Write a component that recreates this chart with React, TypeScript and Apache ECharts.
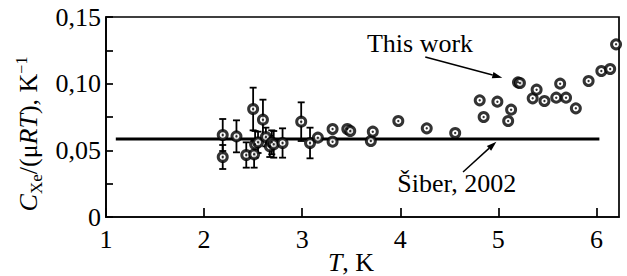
import React, { useEffect, useRef } from "react";
import * as echarts from "echarts";

// Points with error bars: [T, C/(μRT), error]
const errPoints: number[][] = [
  [2.19, 0.0615, 0.012],
  [2.19, 0.045, 0.009],
  [2.33, 0.0605, 0.012],
  [2.43, 0.0465, 0.0095],
  [2.5, 0.081, 0.016],
  [2.51, 0.047, 0.01],
  [2.52, 0.0545, 0.01],
  [2.55, 0.056, 0.008],
  [2.6, 0.073, 0.015],
  [2.63, 0.06, 0.007],
  [2.67, 0.053, 0.008],
  [2.69, 0.056, 0.009],
  [2.71, 0.0545, 0.01],
  [2.8, 0.0555, 0.011],
  [2.99, 0.0715, 0.0145],
  [3.08, 0.0555, 0.0115],
];

// Points without error bars: [T, C/(μRT)]
const plainPoints: number[][] = [
  [3.16, 0.0595],
  [3.31, 0.066],
  [3.31, 0.0565],
  [3.46, 0.066],
  [3.49, 0.0645],
  [3.7, 0.057],
  [3.72, 0.064],
  [3.98, 0.072],
  [4.27, 0.0665],
  [4.56, 0.063],
  [4.81, 0.0875],
  [4.85, 0.075],
  [4.99, 0.0865],
  [5.1, 0.072],
  [5.13, 0.0805],
  [5.2, 0.101],
  [5.22, 0.1005],
  [5.35, 0.089],
  [5.39, 0.0955],
  [5.47, 0.087],
  [5.59, 0.0895],
  [5.63, 0.1],
  [5.69, 0.0895],
  [5.79, 0.0815],
  [5.92, 0.102],
  [6.05, 0.1095],
  [6.14, 0.111],
  [6.2, 0.1295],
];

// Šiber, 2002 theoretical value
const siberLine: number[][] = [
  [1.1, 0.0585],
  [6.03, 0.0585],
];

const xTicks = [1, 2, 3, 4, 5, 6];
const yLabels = ["0", "0,05", "0,10", "0,15"];

const FONT = "'Liberation Serif', 'Times New Roman', serif";
const FS = 26;

export default function App() {
  const ref = useRef<HTMLDivElement>(null);
  useEffect(() => {
    if (!ref.current) return;
    const chart = echarts.init(ref.current, undefined, { renderer: "svg" });
    const allPoints = [...errPoints.map((p) => [p[0], p[1]]), ...plainPoints];
    const option: any = {
      animation: false,
      backgroundColor: "#fff",
      grid: {
        left: 106,
        right: 8,
        top: 17,
        bottom: 59,
        show: true,
        borderColor: "#000",
        borderWidth: 1.7,
        containLabel: false,
      },
      xAxis: {
        type: "value",
        min: 1,
        max: 6.23,
        interval: 1,
        axisLine: { show: true, onZero: false, lineStyle: { color: "#000", width: 1.7 } },
        axisTick: { show: true, inside: true, length: 9, lineStyle: { color: "#000", width: 1.7 } },
        splitLine: { show: false },
        axisLabel: {
          color: "#000",
          fontFamily: FONT,
          fontSize: FS,
          margin: 9,
          showMaxLabel: false,
          formatter: (v: number) => (xTicks.includes(Math.round(v * 100) / 100) ? String(v) : ""),
        },
      },
      yAxis: {
        type: "value",
        min: 0,
        max: 0.15,
        interval: 0.025,
        axisLine: { show: true, onZero: false, lineStyle: { color: "#000", width: 1.7 } },
        axisTick: { show: true, inside: true, length: 7, lineStyle: { color: "#000", width: 1.7 } },
        splitLine: { show: false },
        axisLabel: {
          color: "#000",
          fontFamily: FONT,
          fontSize: FS,
          margin: 5,
          formatter: (v: number) => {
            const idx = Math.round(v / 0.05);
            if (Math.abs(v - idx * 0.05) > 1e-6) return "";
            return yLabels[idx] ?? "";
          },
        },
      },
      series: [
        {
          type: "line",
          data: siberLine,
          symbol: "none",
          lineStyle: { color: "#000", width: 2.8 },
          z: 1,
        },
        {
          type: "custom",
          data: errPoints,
          renderItem: (params: any, api: any) => {
            const x = api.value(0);
            const y = api.value(1);
            const e = api.value(2);
            const top = api.coord([x, y + e]);
            const bot = api.coord([x, y - e]);
            const cw = 3.5;
            const style = { stroke: "#000", lineWidth: 1.8 };
            return {
              type: "group",
              children: [
                { type: "line", shape: { x1: top[0], y1: top[1], x2: bot[0], y2: bot[1] }, style },
                { type: "line", shape: { x1: top[0] - cw, y1: top[1], x2: top[0] + cw, y2: top[1] }, style },
                { type: "line", shape: { x1: bot[0] - cw, y1: bot[1], x2: bot[0] + cw, y2: bot[1] }, style },
              ],
            };
          },
          z: 2,
        },
        {
          type: "scatter",
          data: allPoints,
          symbol: "circle",
          symbolSize: 9,
          itemStyle: { color: "#fff", borderColor: "#000", borderWidth: 3 },
          z: 3,
        },
        {
          type: "scatter",
          data: allPoints,
          symbol: "circle",
          symbolSize: 2.4,
          itemStyle: { color: "#000" },
          z: 4,
        },
      ],
    };
    chart.setOption(option);

    const px = (p: number[]) => chart.convertToPixel({ gridIndex: 0 }, p) as number[];
    const arrow = (from: number[], to: number[]) => {
      const a = px(from);
      const b = px(to);
      const dx = b[0] - a[0];
      const dy = b[1] - a[1];
      const len = Math.hypot(dx, dy);
      const ux = dx / len;
      const uy = dy / len;
      const hl = 10;
      const hw = 3.2;
      const bx = b[0] - ux * hl;
      const by = b[1] - uy * hl;
      return [
        {
          type: "line",
          shape: { x1: a[0], y1: a[1], x2: bx, y2: by },
          style: { stroke: "#000", lineWidth: 1.5 },
        },
        {
          type: "polygon",
          shape: {
            points: [
              [b[0], b[1]],
              [bx - uy * hw, by + ux * hw],
              [bx + uy * hw, by - ux * hw],
            ],
          },
          style: { fill: "#000" },
        },
      ];
    };
    const twPos = px([3.66, 0.1305]);
    const sbPos = px([3.97, 0.0255]);
    const graphic: any[] = [
      {
        type: "text",
        x: twPos[0],
        y: twPos[1],
        style: {
          text: "This work",
          font: `${FS}px ${FONT}`,
          fill: "#000",
          textAlign: "left",
          textVerticalAlign: "middle",
        },
      },
      {
        type: "text",
        x: sbPos[0],
        y: sbPos[1],
        style: {
          text: "Šiber, 2002",
          font: `${FS}px ${FONT}`,
          fill: "#000",
          textAlign: "left",
          textVerticalAlign: "middle",
        },
      },
      ...arrow([4.255, 0.12], [5.04, 0.1045]),
      ...arrow([4.64, 0.0338], [4.98, 0.0565]),
      {
        type: "text",
        x: 27,
        y: 134,
        rotation: Math.PI / 2,
        style: {
          text: "{i|C}{sub|Xe}{n|/(μ}{i|RT}{n|), K}{sup|−1}",
          fill: "#000",
          textAlign: "center",
          textVerticalAlign: "middle",
          rich: {
            i: { fontFamily: FONT, fontStyle: "italic", fontSize: FS, lineHeight: 28, verticalAlign: "bottom" },
            n: { fontFamily: FONT, fontSize: FS, lineHeight: 28, verticalAlign: "bottom" },
            sub: { fontFamily: FONT, fontSize: 17, lineHeight: 17, verticalAlign: "bottom", padding: [0, 0, -4, 0] },
            sup: { fontFamily: FONT, fontSize: 16, lineHeight: 16, verticalAlign: "top" },
          },
        },
      },
      {
        type: "text",
        x: 351,
        y: 262,
        style: {
          text: "{i|T}{n|, K}",
          fill: "#000",
          textAlign: "center",
          textVerticalAlign: "middle",
          rich: {
            i: { fontFamily: FONT, fontStyle: "italic", fontSize: FS, lineHeight: 26 },
            n: { fontFamily: FONT, fontSize: FS, lineHeight: 26 },
          },
        },
      },
    ];
    chart.setOption({ graphic });
    return () => chart.dispose();
  }, []);
  return (
    <div
      ref={ref}
      style={{ position: "fixed", left: 0, top: 0, width: 627, height: 276, background: "#fff" }}
    />
  );
}
